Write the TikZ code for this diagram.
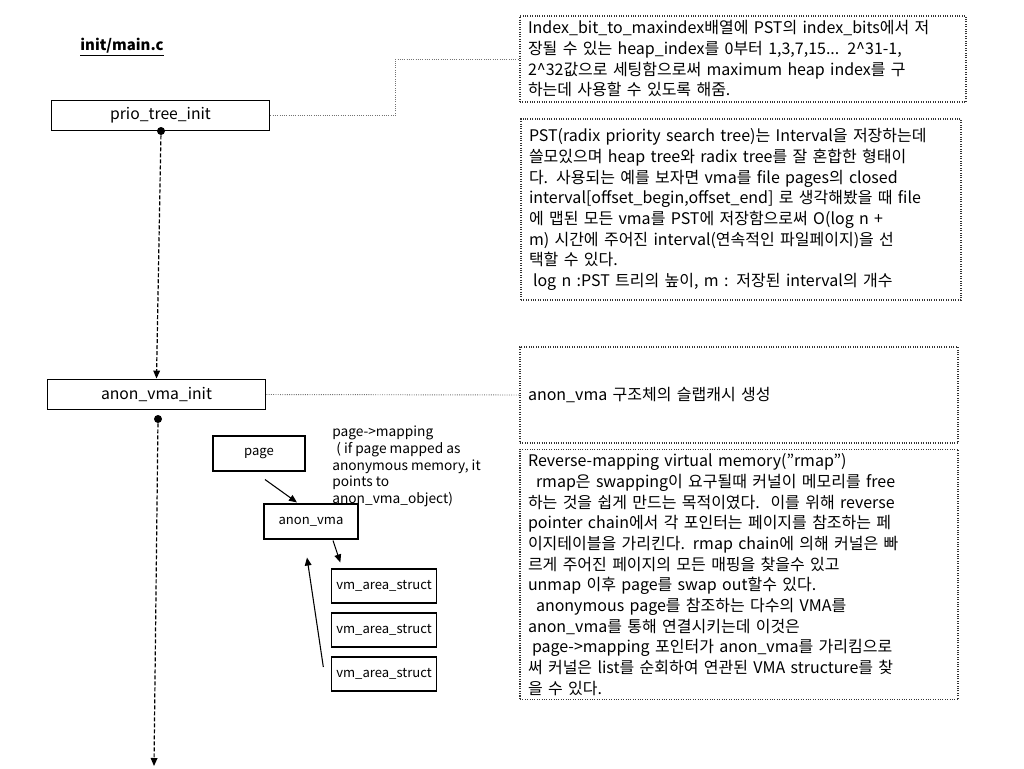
\documentclass[tikz,border=0pt]{standalone}
\usepackage{fontspec}
\setmainfont{Noto Sans CJK KR}
\usetikzlibrary{arrows.meta}

\begin{document}
\begin{tikzpicture}[x=0.75pt, y=-0.75pt,
    >={Triangle[length=6pt,width=5pt]},
    funcbox/.style={draw, line width=0.9pt, minimum width=164pt, minimum height=23pt, font=\fontsize{11.8}{13}\selectfont},
    smallbox/.style={draw, line width=0.8pt, font=\fontsize{9.8}{12}\selectfont},
    notebox/.style={draw=black!80, densely dotted, line width=0.8pt, align=left, inner xsep=6pt, text width=#1, font=\fontsize{12}{15.5}\selectfont},
    link/.style={draw=black!55, densely dotted, line width=0.7pt},
    flow/.style={->, dash pattern=on 3pt off 1.5pt, line width=0.9pt},
    dot/.style={circle, fill=black, inner sep=0pt, minimum size=6pt}]
    \useasboundingbox (0,0) rectangle (1024,768);

    % Draw the title and the init functions
    \node[font=\bfseries\fontsize{11.2}{13}\selectfont] (title) at (122,47) {\underline{init/main.c}};
    \node[funcbox] (prioinit) at (160.5,115.5) {prio\_tree\_init};
    \node[funcbox] (anoninit) at (156.5,394.5) {anon\_vma\_init};

    % Draw the dots and the call flow
    \node[dot] (priodot) at (161,131) {};
    \node[dot] (anondot) at (158,419) {};
    \coordinate (flowend) at (154,766);
    \draw[flow] (priodot) -- (anoninit.north);
    \draw[flow] (anondot) -- (flowend);

    % Draw the notes
    \node[notebox=322.5pt, minimum width=334.5pt, minimum height=64.5pt] (note1) at (743,59) {%
        Index\_bit\_to\_maxindex배열에 PST의 index\_bits에서 저\\
        장될 수 있는 heap\_index를 0부터 1,3,7,15... 2\textasciicircum 31-1,\\
        2\textasciicircum 32값으로 세팅함으로써 maximum heap index를 구\\
        하는데 사용할 수 있도록 해줌.};
    \node[notebox=318pt, minimum width=330pt, minimum height=135.75pt] (note2) at (741,209.5) {%
        PST(radix priority search tree)는 Interval을 저장하는데\\
        쓸모있으며 heap tree와 radix tree를 잘 혼합한 형태이\\
        다. 사용되는 예를 보자면 vma를 file pages의 closed\\
        interval{[}offset\_begin,offset\_end{]} 로 생각해봤을 때 file\\
        에 맵된 모든 vma를 PST에 저장함으로써 O(log n +\\
        m) 시간에 주어진 interval(연속적인 파일페이지)을 선\\
        택할 수 있다.\\
        \hspace*{0.25em}log n :PST 트리의 높이, m : 저장된 interval의 개수};
    \node[notebox=316.5pt, minimum width=328.5pt, minimum height=72pt] (note3) at (739,395) {%
        anon\_vma 구조체의 슬랩캐시 생성};
    \node[notebox=316.5pt, minimum width=328.5pt, minimum height=183.75pt] (note4) at (739,574.5) {%
        Reverse-mapping virtual memory(”rmap”)\\
        \hspace*{0.5em}rmap은 swapping이 요구될때 커널이 메모리를 free\\
        하는 것을 쉽게 만드는 목적이였다.\ \ 이를 위해 reverse\\
        pointer chain에서 각 포인터는 페이지를 참조하는 페\\
        이지테이블을 가리킨다. rmap chain에 의해 커널은 빠\\
        르게 주어진 페이지의 모든 매핑을 찾을수 있고\\
        unmap 이후 page를 swap out할수 있다.\\
        \hspace*{0.5em}anonymous page를 참조하는 다수의 VMA를\\
        anon\_vma를 통해 연결시키는데 이것은\\
        \hspace*{0.25em}page->mapping 포인터가 anon\_vma를 가리킴으로\\
        써 커널은 list를 순회하여 연관된 VMA structure를 찾\\
        을 수 있다.};

    % Draw the links to the notes
    \draw[link] (prioinit.east) -- ++(125,0) |- (note1.west);
    \draw[link] (anoninit.east) -- (note3.west);

    % Draw the page, anon_vma and vm_area_struct boxes
    \node[smallbox, minimum width=69pt, minimum height=26.25pt] (page) at (259,453.5) {page};
    \node[smallbox, minimum width=70.5pt, minimum height=26.25pt] (anonvma) at (311,521.5) {anon\_vma};
    \node[smallbox, minimum width=76.5pt, minimum height=25.5pt] (vma1) at (384,586) {vm\_area\_struct};
    \node[smallbox, minimum width=76.5pt, minimum height=25.5pt] (vma2) at (384,630) {vm\_area\_struct};
    \node[smallbox, minimum width=76.5pt, minimum height=25.5pt] (vma3) at (384,674) {vm\_area\_struct};
    \node[anchor=north west, align=left, inner sep=0pt, font=\fontsize{10.3}{12.5}\selectfont] (maplabel) at (332,426) {%
        page->mapping\\
        \hspace*{0.3em}( if page mapped as\\
        anonymous memory, it\\
        points to\\
        anon\_vma\_object)};

    % Draw the arrows between the boxes
    \draw[->, line width=0.8pt] ([shift={(6,8)}]page.south) -- ([shift={(-14,-1)}]anonvma.north);
    \draw[->, line width=0.8pt] ([shift={(22,1)}]anonvma.south) -- ([shift={(9,-6)}]vma1.north west);
    \draw[->, line width=0.8pt] ([shift={(-8,-7)}]vma3.west) -- ([shift={(-4,18)}]anonvma.south);
\end{tikzpicture}
\end{document}
